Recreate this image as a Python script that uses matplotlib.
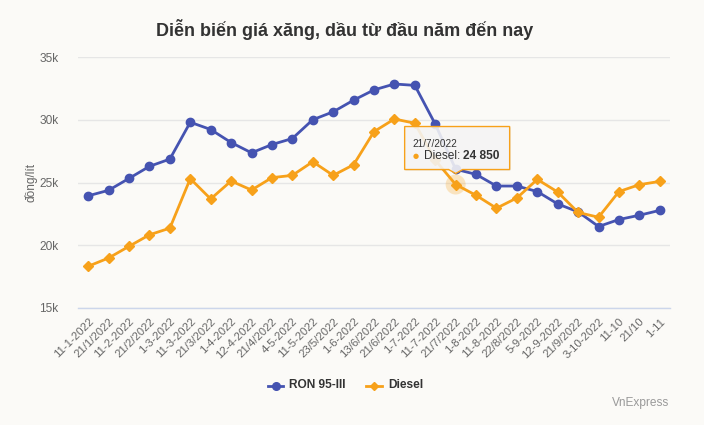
import matplotlib
matplotlib.use("Agg")
import matplotlib.pyplot as plt
from matplotlib.lines import Line2D
from matplotlib.patches import Polygon, Circle
from matplotlib.transforms import Affine2D, ScaledTranslation
from matplotlib.ticker import FuncFormatter

plt.rcParams['font.family'] = ['Liberation Sans', 'DejaVu Sans']

dates = ["11-1-2022", "21/1/2022", "11-2-2022", "21/2/2022", "1-3-2022", "11-3-2022",
         "21/3/2022", "1-4-2022", "12-4-2022", "21/4/2022", "4-5-2022", "11-5-2022",
         "23/5/2022", "1-6-2022", "13/6/2022", "21/6/2022", "1-7-2022", "11-7-2022",
         "21/7/2022", "1-8-2022", "11-8-2022", "22/8/2022", "5-9-2022", "12-9-2022",
         "21/9/2022", "3-10-2022", "11-10", "21/10", "1-11"]
ron95 = [23950, 24390, 25340, 26300, 26880, 29820, 29240, 28200, 27380, 28040, 28520,
         30020, 30650, 31580, 32400, 32870, 32760, 29670, 26070, 25660, 24730, 24730,
         24290, 23300, 22670, 21500, 22060, 22400, 22790]
diesel = [18330, 18990, 19920, 20840, 21370, 25320, 23700, 25130, 24410, 25400, 25580,
          26670, 25580, 26430, 29070, 30080, 29740, 26800, 24850, 23990, 22960, 23780,
          25260, 24250, 22620, 22240, 24290, 24840, 25100]
yticks = [15000, 20000, 25000, 30000, 35000]
hover_idx = 18

BG = '#fbfaf7'
C_RON = '#4553b1'
C_DIE = '#f7a11a'

W, H = 704, 425
fig = plt.figure(figsize=(W / 100, H / 100), dpi=100, facecolor=BG)
ax = fig.add_axes([78 / W, 1 - 308 / H, (670 - 78) / W, (308 - 57.3) / H])
ax.set_facecolor(BG)

x = list(range(len(dates)))
ax.plot(x, ron95, color=C_RON, lw=2, marker='o', ms=6, mec=C_RON, mfc=C_RON, zorder=3)
ax.plot(x, diesel, color=C_DIE, lw=2, marker='D', ms=4.6, mec=C_DIE, mfc=C_DIE, zorder=4)

ax.set_xlim(-0.5, len(dates) - 0.5)
ax.set_ylim(15000, 35000)
ax.set_yticks(yticks)
ax.yaxis.set_major_formatter(FuncFormatter(lambda v, p: f"{int(v / 1000)}k"))
ax.grid(axis='y', color='#e6e6e6', lw=1)
ax.set_axisbelow(True)
for s in ['top', 'right', 'left']:
    ax.spines[s].set_visible(False)
ax.spines['bottom'].set_color('#ccd6eb')
ax.spines['bottom'].set_linewidth(1)
ax.tick_params(axis='y', length=0, pad=14, labelsize=8.6, labelcolor='#666666')
ax.set_xticks(x)
ax.set_xticklabels(dates, rotation=45, ha='right', va='top', rotation_mode='anchor')
ax.tick_params(axis='x', length=0, pad=6, labelsize=8.2, labelcolor='#666666')
ax.set_ylabel("đồng/lít", fontsize=8.6, color='#666666')
ax.yaxis.set_label_coords(-0.069, 0.5)

# title
fig.text(345 / W, 1 - 30 / H, "Diễn biến giá xăng, dầu từ đầu năm đến nay",
         ha='center', va='center', fontsize=13, fontweight='bold', color='#333333')

# hover halo
px = Affine2D().scale(1 / 100) + fig.dpi_scale_trans
halo_tr = px + ScaledTranslation(hover_idx, diesel[hover_idx], ax.transData)
ax.add_patch(Circle((0, 0), 10, transform=halo_tr, facecolor=C_DIE, alpha=0.25,
                    edgecolor='none', zorder=3.5, clip_on=False))

# tooltip (in pixel offsets relative to the hovered point)
tip_tr = px + ScaledTranslation(hover_idx, diesel[hover_idx], ax.transData)
L, R, B, T = -51, 54, 15, 58
shape = [(L, B), (-7, B), (0, 11), (7, B), (R, B), (R, T), (L, T)]
shadow_tr = px + ScaledTranslation(hover_idx, diesel[hover_idx], ax.transData) + Affine2D().translate(1, -1)
ax.add_patch(Polygon(shape, closed=True, transform=shadow_tr, facecolor='#000000',
                     alpha=0.08, edgecolor='none', zorder=9, clip_on=False))
ax.add_patch(Polygon(shape, closed=True, transform=tip_tr, facecolor='#f7f7f7',
                     alpha=0.88, edgecolor='none', zorder=10, clip_on=False))
ax.add_patch(Polygon(shape, closed=True, transform=tip_tr, facecolor='none',
                     edgecolor=C_DIE, lw=1, zorder=11, clip_on=False))
ax.text(L + 8, 41, dates[hover_idx], transform=tip_tr, fontsize=7.2, color='#333333',
        ha='left', va='center', zorder=12)
ax.text(L + 11.5, 29, "●", transform=tip_tr, fontsize=5, color=C_DIE,
        ha='center', va='center', zorder=12, family=['DejaVu Sans'])
val = f"{diesel[hover_idx]:,}".replace(",", " ")
t1 = ax.text(L + 19, 29, "Diesel: ", transform=tip_tr, fontsize=8.6, color='#333333',
             ha='left', va='center', zorder=12)
ax.annotate(val, xycoords=t1, xy=(1, 0.5), va='center', ha='left', fontsize=8.6,
            fontweight='bold', color='#333333', zorder=12)

# legend
ly = 1 - 385.5 / H
fig.add_artist(Line2D([268 / W, 283 / W], [ly, ly], color=C_RON, lw=2,
                      transform=fig.transFigure))
fig.add_artist(Line2D([275.5 / W], [ly], color=C_RON, marker='o', ms=5.5, lw=0,
                      transform=fig.transFigure))
fig.text(289 / W, ly, "RON 95-III", fontsize=8.6, fontweight='bold', color='#333333',
         ha='left', va='center')
fig.add_artist(Line2D([366 / W, 382 / W], [ly, ly], color=C_DIE, lw=2,
                      transform=fig.transFigure))
fig.add_artist(Line2D([374 / W], [ly], color=C_DIE, marker='D', ms=4, lw=0,
                      transform=fig.transFigure))
fig.text(388 / W, ly, "Diesel", fontsize=8.6, fontweight='bold', color='#333333',
         ha='left', va='center')

fig.text(669 / W, 1 - 403 / H, "VnExpress", fontsize=8.6, color='#999999',
         ha='right', va='center')

fig.savefig("out.png", dpi=100, facecolor=BG)
